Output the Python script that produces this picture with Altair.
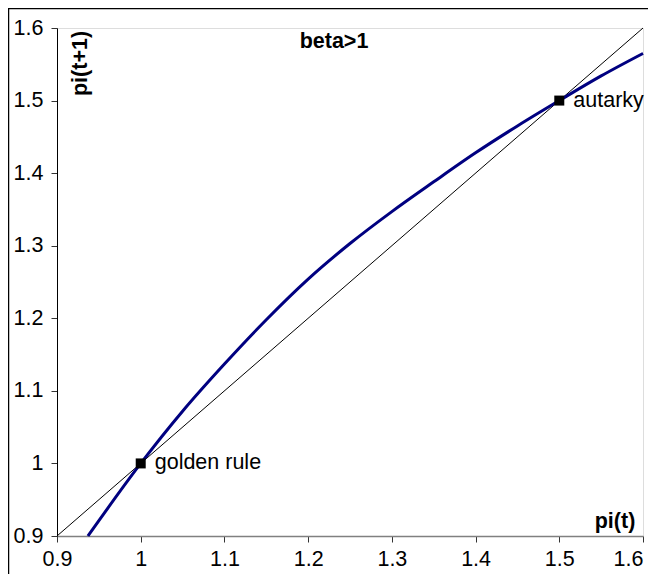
import altair as alt
import pandas as pd

# curve pi(t+1) = f(pi(t))
curve_x = [0.937, 1.0, 1.05, 1.1, 1.15, 1.2, 1.25, 1.3, 1.35, 1.4, 1.45, 1.5, 1.55, 1.6]
curve_y = [0.9, 1.0, 1.072, 1.137, 1.198, 1.254, 1.303, 1.347, 1.388, 1.428, 1.465, 1.5, 1.534, 1.565]

# 45 degree line
diag_x = [0.9, 1.6]
diag_y = [0.9, 1.6]

# marked points
pt_x = [1.0, 1.5]
pt_y = [1.0, 1.5]
pt_label = ["golden rule", "autarky"]

tick_vals = [0.9, 1.0, 1.1, 1.2, 1.3, 1.4, 1.5, 1.6]

FONT = "Liberation Sans"
FS = 21.5

xs = alt.Scale(domain=[0.9, 1.6], nice=False, zero=False)
ys = alt.Scale(domain=[0.9, 1.6], nice=False, zero=False)

curve_df = pd.DataFrame({"x": curve_x, "y": curve_y, "o": list(range(len(curve_x)))})
diag_df = pd.DataFrame({"x": diag_x, "y": diag_y})
pt_df = pd.DataFrame({"x": pt_x, "y": pt_y, "label": pt_label})
one = pd.DataFrame({"a": [0]})

xenc = alt.X("x:Q", scale=xs, title=None,
             axis=alt.Axis(values=tick_vals, format="~g", grid=False, labelFlush=False,
                           labelOverlap=False, labelBound=False,
                           labelAlign=alt.expr("datum.value > 1.59 ? 'right' : 'center'"),
                           domainColor="#808080", domainWidth=1.5,
                           tickColor="#333333", tickSize=6, labelPadding=6,
                           labelFont=FONT, labelFontSize=FS, labelColor="black"))
yenc = alt.Y("y:Q", scale=ys, title=None,
             axis=alt.Axis(values=tick_vals, format="~g", grid=False, labelFlush=False,
                           labelOverlap=False,
                           domainColor="black", domainWidth=1,
                           tickColor="#333333", tickSize=6, labelPadding=8,
                           labelFont=FONT, labelFontSize=FS, labelColor="black"))

border = alt.Chart(one).mark_rect(fillOpacity=0, stroke="black", strokeWidth=1.5).encode(
    x=alt.value(-48.5), x2=alt.value(640), y=alt.value(-19.5), y2=alt.value(600))

diag = alt.Chart(diag_df).mark_line(color="black", strokeWidth=1).encode(x=xenc, y=yenc)

curve = alt.Chart(curve_df).mark_line(color="#000080", strokeWidth=3, interpolate="monotone").encode(
    x=alt.X("x:Q", scale=xs), y=alt.Y("y:Q", scale=ys), order="o:Q")

pts = alt.Chart(pt_df).mark_point(shape="square", filled=True, size=100, color="black", opacity=1).encode(
    x=alt.X("x:Q", scale=xs), y=alt.Y("y:Q", scale=ys))

labels = alt.Chart(pt_df).mark_text(align="left", baseline="middle", dx=14, font=FONT, fontSize=FS,
                                    color="black").encode(
    x=alt.X("x:Q", scale=xs), y=alt.Y("y:Q", scale=ys), text="label:N")

t_beta = alt.Chart(one).mark_text(text="beta>1", font=FONT, fontSize=FS, fontWeight="bold",
                                  align="center", baseline="alphabetic", color="black").encode(
    x=alt.value(277), y=alt.value(20))
t_pit = alt.Chart(one).mark_text(text="pi(t)", font=FONT, fontSize=FS, fontWeight="bold",
                                 align="center", baseline="alphabetic", color="black").encode(
    x=alt.value(558), y=alt.value(500))
t_pit1 = alt.Chart(one).mark_text(text="pi(t+1)", font=FONT, fontSize=FS, fontWeight="bold",
                                  align="center", baseline="alphabetic", angle=270, color="black").encode(
    x=alt.value(30), y=alt.value(35.5))

chart = alt.layer(border, diag, curve, pts, labels, t_beta, t_pit, t_pit1).properties(
    width=586, height=508,
    autosize=alt.AutoSizeParams(type="none"),
    padding={"left": 49, "top": 20, "right": 5, "bottom": 38},
).configure_view(stroke=None).configure(background="white")

chart.save("out.html", embed_options={"renderer": "svg", "actions": False})
